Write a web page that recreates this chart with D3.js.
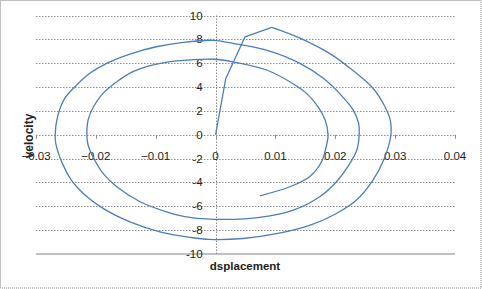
<!DOCTYPE html>
<html>
<head>
<meta charset="utf-8">
<script src="https://cdn.jsdelivr.net/npm/d3@7"></script>
<style>
  body { margin: 0; background: #fff; }
  svg { display: block; font-family: "Liberation Sans", Arial, sans-serif; }
</style>
</head>
<body>
<svg id="chart"></svg>
<script>
// displacement / velocity samples
const displacement = [
  0, 0.0017, 0.0049, 0.0094, 0.0141, 0.0191, 0.0224, 0.0263, 0.0283, 0.0292, 0.0293,
  0.0281, 0.0263, 0.0235, 0.0202, 0.0157, 0.0102, 0.0046, -0.0010,
  -0.0043, -0.0093, -0.0143, -0.0188, -0.0221, -0.0241, -0.0256, -0.0267, -0.0268,
  -0.0264, -0.0252, -0.0232, -0.0210, -0.0182, -0.0143, -0.0099, -0.0054, -0.0004,
  0.0029, 0.0085, 0.0141, 0.0180, 0.0207, 0.0230, 0.0239, 0.0240,
  0.0236, 0.0221, 0.0202, 0.0174, 0.0130, 0.0074, 0.0018,
  -0.0043, -0.0082, -0.0126, -0.0165, -0.0188, -0.0202, -0.0213, -0.0215,
  -0.0213, -0.0204, -0.0188, -0.0165, -0.0138, -0.0104, -0.0060, -0.0004,
  0.0029, 0.0085, 0.0124, 0.0152, 0.0171, 0.0183, 0.0188,
  0.0186, 0.0177, 0.0157, 0.0124, 0.0074
];
const velocity = [
  0, 4.7, 8.2, 9.0, 8.1, 6.8, 5.6, 3.9, 2.35, 1.2, 0,
  -2.1, -3.8, -5.5, -6.6, -7.6, -8.3, -8.7, -8.78,
  -8.6, -8.14, -7.3, -6.17, -4.92, -3.8, -2.4, -0.72, 0,
  1.51, 3.05, 4.17, 5.15, 5.99, 6.77, 7.38, 7.75, 7.92,
  7.67, 7.1, 5.99, 4.73, 3.47, 2.07, 0.96, 0,
  -1.28, -2.68, -3.94, -5.2, -6.32, -6.93, -7.1,
  -6.93, -6.46, -5.62, -4.36, -3.24, -2.12, -0.86, 0,
  1.23, 2.35, 3.47, 4.45, 5.29, 5.85, 6.21, 6.33,
  6.12, 5.43, 4.45, 3.47, 2.35, 1.23, 0,
  -0.72, -2.26, -3.52, -4.36, -5.12
];
const xTicks = [-0.03, -0.02, -0.01, 0, 0.01, 0.02, 0.03, 0.04];
const yTicks = [-10, -8, -6, -4, -2, 0, 2, 4, 6, 8, 10];

const width = 482, height = 289;
const svg = d3.select("#chart").attr("width", width).attr("height", height);

// dotted frame round the chart area
svg.append("rect")
  .attr("x", 0.5).attr("y", 0.5)
  .attr("width", width - 1.5).attr("height", height - 1.5)
  .attr("fill", "none")
  .attr("stroke", "#808080")
  .attr("stroke-dasharray", "1,1");

const x = d3.scaleLinear().domain([-0.03, 0.04]).range([36, 455]);
const y = d3.scaleLinear().domain([-10, 10]).range([254, 15.5]);

// horizontal gridlines
svg.append("g")
  .selectAll("line")
  .data(yTicks.filter(d => d !== -10))
  .join("line")
  .attr("x1", x(-0.03)).attr("x2", x(0.04))
  .attr("y1", d => Math.round(y(d)) + 0.5)
  .attr("y2", d => Math.round(y(d)) + 0.5)
  .attr("stroke", "#8c8c8c")
  .attr("stroke-dasharray", "1.5,1.5");

// bottom line at -10
svg.append("line")
  .attr("x1", x(-0.03)).attr("x2", x(0.04))
  .attr("y1", y(-10)).attr("y2", y(-10))
  .attr("stroke", "#c0c0c0")
  .attr("stroke-width", 2);

// vertical axis at x = 0
svg.append("line")
  .attr("x1", Math.round(x(0)) + 0.5).attr("x2", Math.round(x(0)) + 0.5)
  .attr("y1", y(10)).attr("y2", y(-10))
  .attr("stroke", "#8c8c8c")
  .attr("stroke-dasharray", "1.5,1.5");

// small tick marks on the horizontal axis
svg.append("g")
  .selectAll("line")
  .data(xTicks)
  .join("line")
  .attr("x1", d => Math.round(x(d)) + 0.5)
  .attr("x2", d => Math.round(x(d)) + 0.5)
  .attr("y1", y(0)).attr("y2", y(0) + 4)
  .attr("stroke", "#8c8c8c");

// x tick labels
svg.append("g")
  .selectAll("text")
  .data(xTicks)
  .join("text")
  .attr("x", d => x(d))
  .attr("y", y(0) + 25.5)
  .attr("text-anchor", "middle")
  .attr("font-size", "11.5px")
  .attr("fill", "#222")
  .text(d => d3.format("")(+d.toFixed(2)));

// y tick labels
svg.append("g")
  .selectAll("text")
  .data(yTicks)
  .join("text")
  .attr("x", x(0) - 13)
  .attr("y", d => y(d) + 4)
  .attr("text-anchor", "end")
  .attr("font-size", "11.5px")
  .attr("fill", "#222")
  .text(d => d);

// the phase curve: first kick is straight segments, the spiral is smoothed
const pts = displacement.map((d, i) => [x(d), y(velocity[i])]);
const straight = d3.line();
const smooth = d3.line().curve(d3.curveCatmullRom.alpha(0.5));

svg.append("path")
  .attr("d", straight(pts.slice(0, 4)))
  .attr("fill", "none")
  .attr("stroke", "#4a7ebb")
  .attr("stroke-width", 1.3)
  .attr("stroke-linejoin", "round");

svg.append("path")
  .attr("d", smooth(pts.slice(3)))
  .attr("fill", "none")
  .attr("stroke", "#4a7ebb")
  .attr("stroke-width", 1.3)
  .attr("stroke-linejoin", "round");

// axis titles
svg.append("text")
  .attr("transform", "translate(33," + 136 + ") rotate(-90)")
  .attr("text-anchor", "middle")
  .attr("font-size", "12px")
  .attr("font-weight", "bold")
  .attr("fill", "#222")
  .text("velocity");

svg.append("text")
  .attr("x", 245)
  .attr("y", 270)
  .attr("text-anchor", "middle")
  .attr("font-size", "11.5px")
  .attr("font-weight", "bold")
  .attr("fill", "#222")
  .text("dsplacement");
</script>
</body>
</html>
